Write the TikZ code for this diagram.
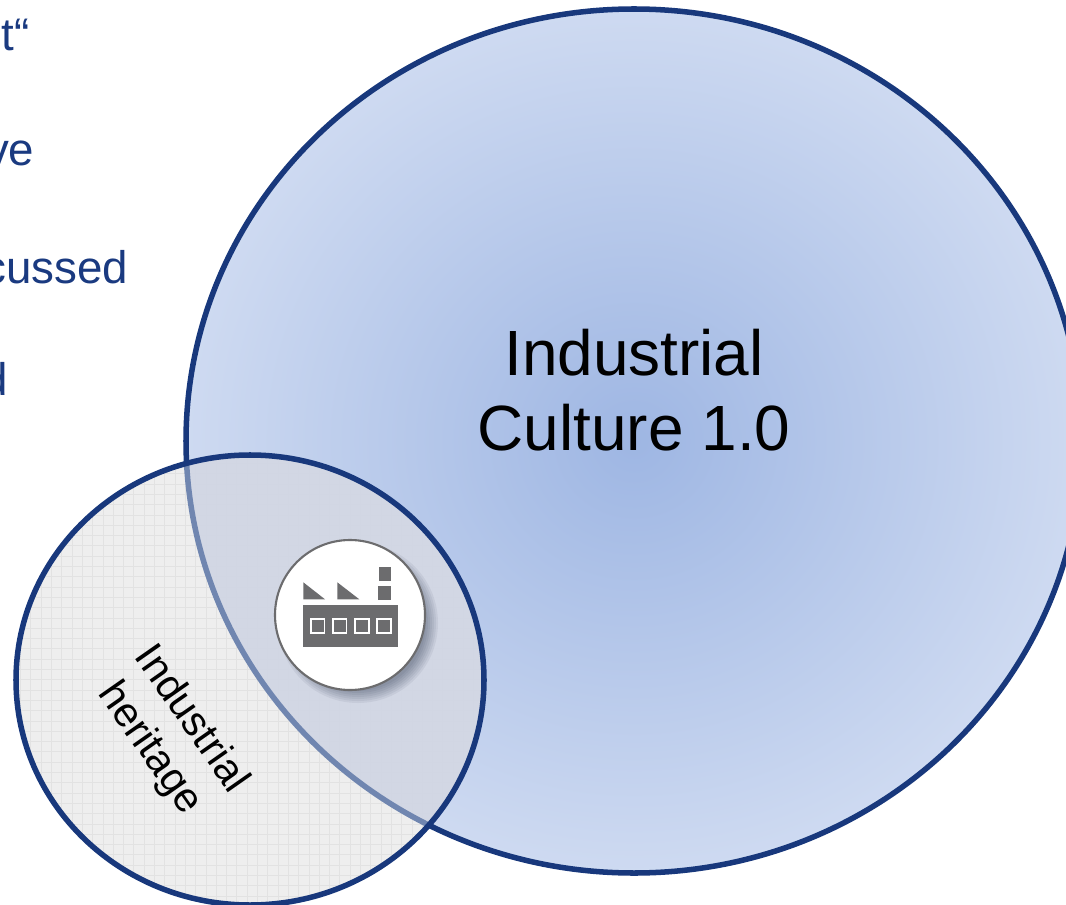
\documentclass[tikz,border=0pt]{standalone}
\usepackage{fontspec}
\setmainfont{Liberation Sans}
\usetikzlibrary{arrows}
\definecolor{rimblue}{RGB}{24,56,124}
\definecolor{fadedrim}{RGB}{112,134,176}
\definecolor{bodytext}{RGB}{26,58,128}
\definecolor{iconhull}{RGB}{108,108,110}
\definecolor{centreblue}{RGB}{158,182,227}
\definecolor{edgeblue}{RGB}{206,218,241}
\definecolor{heritagegray}{RGB}{238,238,238}
\definecolor{gridgray}{RGB}{226,226,226}
\definecolor{overlapblue}{RGB}{208,214,228}
\tikzset{
  rim/.style={line width=1.6mm/2.9},
  bullettext/.style={anchor=base east,text=bodytext,inner sep=0pt,font=\fontsize{13}{15}\selectfont},
  hull/.style={fill=iconhull,draw=none},
  pane/.style={draw=white,line width=0.5pt,fill=iconhull,minimum size=0.135cm,inner sep=0pt}
}
\begin{document}
\begin{tikzpicture}
    \useasboundingbox (0,0) rectangle (10.66,-9.04);
    \node[bullettext] (lineone) at (0.30,-0.51) {t“};
    \node[bullettext] (linetwo) at (0.35,-1.66) {ve};
    \node[bullettext] (linethree) at (1.29,-2.83) {cussed};
    \node[bullettext] (linefour) at (0.09,-3.95) {d};
    % large circle
    \shade[inner color=centreblue,outer color=edgeblue]
      (6.34,-4.41) ellipse [x radius=4.48,y radius=4.32];
    \draw[rim,rimblue] (6.34,-4.41) ellipse [x radius=4.48,y radius=4.32];
    \node[align=center,font=\fontsize{18.2}{21.3}\selectfont] (culture) at (6.34,-3.90)
      {Industrial\\Culture 1.0};
    % small circle
    \fill[heritagegray] (2.50,-6.80) ellipse [x radius=2.34,y radius=2.25];
    \begin{scope}
      \clip (2.50,-6.80) ellipse [x radius=2.34,y radius=2.25];
      \draw[gridgray,line width=0.25pt,step=0.103] (0,-9.04) grid (5,-4.4);
      \fill[overlapblue,fill opacity=0.93] (6.34,-4.41) ellipse [x radius=4.48,y radius=4.32];
      \draw[rim,fadedrim] (6.34,-4.41) ellipse [x radius=4.48,y radius=4.32];
    \end{scope}
    \draw[rim,rimblue] (2.50,-6.80) ellipse [x radius=2.34,y radius=2.25];
    \node[align=center,rotate=-55,font=\fontsize{11.8}{14.4}\selectfont] (heritage) at (1.70,-7.34)
      {Industrial\\heritage};
    % factory badge
    \foreach \r in {0.68,0.70,...,0.82}
      \fill[black!60!rimblue,opacity=0.06] (3.58,-6.23) circle (\r);
    \node[circle,draw=iconhull,fill=white,line width=0.6pt,minimum size=1.50cm,inner sep=0pt] (badge) at (3.50,-6.15) {};
    \fill[hull] (3.033,-5.823) -- (3.033,-5.993) -- (3.25,-5.993) -- cycle;
    \fill[hull] (3.373,-5.823) -- (3.373,-5.993) -- (3.593,-5.993) -- cycle;
    \fill[hull] (3.79,-5.67) rectangle (3.907,-5.807);
    \fill[hull] (3.78,-5.86) rectangle (3.907,-6.00);
    \fill[hull] (3.033,-6.05) rectangle (3.98,-6.473);
    \foreach \x/\n in {3.177/a,3.397/b,3.62/c,3.84/d}
      \node[pane] (pane\n) at (\x,-6.26) {};
  \end{tikzpicture}
\end{document}
